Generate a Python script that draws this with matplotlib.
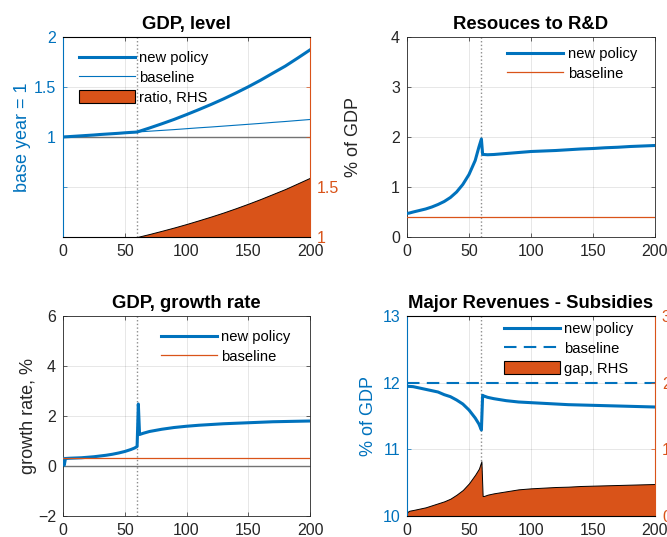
import matplotlib
matplotlib.use('Agg')
import matplotlib.pyplot as plt
import matplotlib as mpl
from matplotlib.patches import Patch
from matplotlib.lines import Line2D

mpl.rcParams.update({
    'font.family': ['Liberation Sans', 'DejaVu Sans'],
    'font.size': 11.5,
})

BLUE = '#0072BD'; ORANGE = '#D95319'; DARK = '#262626'
FS_TICK = 11.5; FS_LAB = 13; FS_TTL = 13.3; FS_LEG = 10.6

# time axis (periods)
t = [0, 1, 2, 5, 10, 15, 20, 25, 30, 35, 40, 45, 50, 55, 58, 60, 61, 62, 65, 70,
     80, 90, 100, 110, 120, 130, 140, 150, 160, 170, 180, 190, 200]

# panel 1: GDP level
gdp_base = [1.000, 1.001, 1.002, 1.004, 1.008, 1.012, 1.016, 1.020, 1.025, 1.029, 1.033,
            1.037, 1.042, 1.046, 1.048, 1.050, 1.051, 1.052, 1.054, 1.058,
            1.066, 1.074, 1.083, 1.092, 1.100, 1.109, 1.118, 1.127, 1.136, 1.146,
            1.155, 1.165, 1.175]
gdp_new = [1.000, 1.001, 1.002, 1.004, 1.008, 1.012, 1.016, 1.020, 1.025, 1.029, 1.033,
           1.037, 1.042, 1.046, 1.048, 1.050, 1.054, 1.058, 1.070, 1.090,
           1.132, 1.176, 1.224, 1.274, 1.326, 1.381, 1.440, 1.502, 1.568, 1.639,
           1.709, 1.789, 1.871]
gdp_ratio = [1.0, 1.0, 1.0, 1.0, 1.0, 1.0, 1.0, 1.0, 1.0, 1.0, 1.0,
             1.0, 1.0, 1.0, 1.0, 1.0, 1.003, 1.006, 1.015, 1.030,
             1.062, 1.095, 1.130, 1.167, 1.205, 1.245, 1.288, 1.333, 1.380, 1.430,
             1.480, 1.536, 1.592]

# panel 2: R&D, % of GDP
rd_new = [0.47, 0.475, 0.48, 0.50, 0.53, 0.56, 0.60, 0.65, 0.71, 0.79, 0.90,
          1.05, 1.25, 1.53, 1.80, 1.96, 1.65, 1.65, 1.645, 1.65,
          1.67, 1.69, 1.71, 1.72, 1.73, 1.745, 1.76, 1.77, 1.785, 1.795,
          1.81, 1.82, 1.83]
rd_base = 0.41

# panel 3: GDP growth rate, %
gr_new = [0.30, 0.03, 0.30, 0.31, 0.32, 0.33, 0.35, 0.37, 0.40, 0.43, 0.47,
          0.52, 0.58, 0.66, 0.72, 0.78, 2.48, 1.26, 1.31, 1.38,
          1.47, 1.54, 1.59, 1.63, 1.66, 1.69, 1.71, 1.73, 1.75, 1.77,
          1.78, 1.79, 1.80]
gr_base = 0.33

# panel 4: major revenues - subsidies, % of GDP
rev_new = [11.95, 11.945, 11.944, 11.94, 11.92, 11.90, 11.88, 11.86, 11.82, 11.79, 11.74,
           11.68, 11.59, 11.47, 11.38, 11.29, 11.81, 11.80, 11.78, 11.76,
           11.73, 11.71, 11.70, 11.69, 11.68, 11.67, 11.665, 11.66, 11.655, 11.65,
           11.645, 11.64, 11.635]
rev_base = 12.0
rev_gap = [0.05, 0.07, 0.08, 0.09, 0.11, 0.13, 0.16, 0.19, 0.22, 0.26, 0.32,
           0.39, 0.49, 0.62, 0.71, 0.82, 0.30, 0.30, 0.32, 0.34,
           0.37, 0.40, 0.415, 0.425, 0.435, 0.44, 0.45, 0.455, 0.46, 0.465,
           0.47, 0.475, 0.48]

W, H = 667, 537
fig = plt.figure(figsize=(W / 100, H / 100), dpi=100)

def pos(x0, x1, y0, y1):
    return [x0 / W, (H - y1) / H, (x1 - x0) / W, (y1 - y0) / H]

def style(ax, right=True):
    ax.set_xlim(0, 200)
    ax.set_xticks([0, 50, 100, 150, 200])
    for s in ax.spines.values():
        s.set_linewidth(0.6); s.set_color(DARK)
    ax.tick_params(direction='in', length=3, width=0.5, colors=DARK,
                   labelsize=FS_TICK, top=True, right=right, pad=5)
    ax.grid(True, color=DARK, alpha=0.13, lw=0.6)
    ax.set_axisbelow(True)
    ax.axvline(60, color='0.55', ls=':', lw=1.0, zorder=1)

def legend(ax, handles, labels, x, y):
    ax.legend(handles, labels, loc='upper left', bbox_to_anchor=(x, y), frameon=False,
              fontsize=FS_LEG, handlelength=3.8, handletextpad=0.3, labelspacing=0.36,
              borderpad=0, borderaxespad=0, handleheight=0.95)

def color_twin(ax, ax2, lc, rc):
    ax.spines['left'].set_color(lc); ax2.spines['left'].set_color(lc)
    ax.spines['right'].set_color(rc); ax2.spines['right'].set_color(rc)
    ax.tick_params(axis='y', colors=lc, right=False)
    ax2.tick_params(direction='in', length=3, width=0.5, colors=rc,
                    labelsize=FS_TICK, pad=5)

# --- GDP, level
ax = fig.add_axes(pos(63, 310, 37, 237))
style(ax, right=False)
ax.axhline(1, color='0.45', lw=1.0, zorder=2)
ax.plot(t, gdp_new, color=BLUE, lw=2.2, zorder=3)
ax.plot(t, gdp_base, color=BLUE, lw=0.8, zorder=3)
ax.set_ylim(0, 2)
ax.set_yticks([0, 0.5, 1, 1.5, 2])
ax.set_yticklabels(['', '', '1', '1.5', '2'])
ax.set_ylabel('base year = 1', fontsize=FS_LAB, color=BLUE)
ax.yaxis.set_label_coords(-0.128, 0.5)
ax.set_title('GDP, level', fontsize=FS_TTL, fontweight='bold', pad=6)
ax2 = ax.twinx()
ax2.fill_between(t, 1, gdp_ratio, facecolor=ORANGE, edgecolor='black', lw=0.7)
ax2.set_ylim(1, 3)
ax2.set_yticks([1, 1.5, 2, 2.5, 3])
ax2.set_yticklabels(['1', '1.5', '', '', ''])
color_twin(ax, ax2, BLUE, ORANGE)
legend(ax2, [Line2D([], [], color=BLUE, lw=2.2), Line2D([], [], color=BLUE, lw=0.8),
             Patch(facecolor=ORANGE, edgecolor='black', lw=0.8)],
       ['new policy', 'baseline', 'ratio, RHS'], 0.065, 0.93)

# --- Resources to R&D
ax = fig.add_axes(pos(407, 655, 37, 237))
style(ax)
ax.plot(t, rd_new, color=BLUE, lw=2.2, label='new policy', zorder=3)
ax.plot([t[0], t[-1]], [rd_base, rd_base], color=ORANGE, lw=0.9, label='baseline', zorder=3)
ax.set_ylim(0, 4)
ax.set_yticks([0, 1, 2, 3, 4])
ax.set_ylabel('% of GDP', fontsize=FS_LAB, color=DARK)
ax.yaxis.set_label_coords(-0.18, 0.5)
ax.set_title('Resouces to R&D', fontsize=FS_TTL, fontweight='bold', pad=6)
h, l = ax.get_legend_handles_labels()
legend(ax, h, l, 0.405, 0.95)

# --- GDP, growth rate
ax = fig.add_axes(pos(63, 310, 316, 516))
style(ax)
ax.axhline(0, color='0.45', lw=1.0, zorder=2)
ax.plot(t, gr_new, color=BLUE, lw=2.2, label='new policy', zorder=3)
ax.plot([t[0], t[-1]], [gr_base, gr_base], color=ORANGE, lw=0.9, label='baseline', zorder=3)
ax.set_ylim(-2, 6)
ax.set_yticks([-2, 0, 2, 4, 6])
ax.set_ylabel('growth rate, %', fontsize=FS_LAB, color=DARK)
ax.yaxis.set_label_coords(-0.105, 0.5)
ax.set_title('GDP, growth rate', fontsize=FS_TTL, fontweight='bold', pad=6)
h, l = ax.get_legend_handles_labels()
legend(ax, h, l, 0.397, 0.93)

# --- Major Revenues - Subsidies
ax = fig.add_axes(pos(407, 655, 316, 516))
style(ax, right=False)
ax.plot(t, rev_new, color=BLUE, lw=2.2, zorder=3)
ax.plot([t[0], t[-1]], [rev_base, rev_base], color=BLUE, lw=1.5, ls=(0, (6, 3.5)), zorder=3)
ax.set_ylim(10, 13)
ax.set_yticks([10, 11, 12, 13])
ax.set_ylabel('% of GDP', fontsize=FS_LAB, color=BLUE)
ax.yaxis.set_label_coords(-0.12, 0.5)
ax.set_title('Major Revenues - Subsidies', fontsize=FS_TTL, fontweight='bold', pad=6)
ax2 = ax.twinx()
ax2.fill_between(t, 0, rev_gap, facecolor=ORANGE, edgecolor='black', lw=0.7)
ax2.set_ylim(0, 3)
ax2.set_yticks([0, 1, 2, 3])
color_twin(ax, ax2, BLUE, ORANGE)
legend(ax2, [Line2D([], [], color=BLUE, lw=2.2),
             Line2D([], [], color=BLUE, lw=1.5, ls=(0, (6, 3.5))),
             Patch(facecolor=ORANGE, edgecolor='black', lw=0.8)],
       ['new policy', 'baseline', 'gap, RHS'], 0.39, 0.97)

fig.savefig('out.png', dpi=100)
